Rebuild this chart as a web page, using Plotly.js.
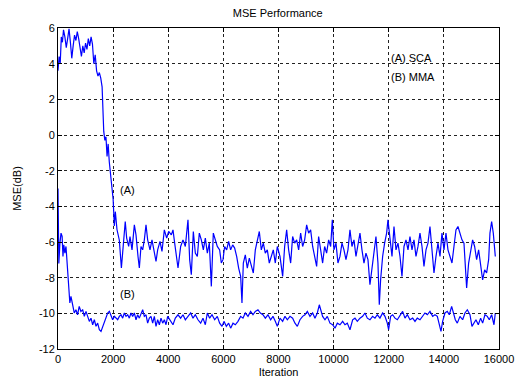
<!DOCTYPE html>
<html>
<head>
<meta charset="utf-8">
<script src="https://cdn.plot.ly/plotly-3.0.1.min.js"></script>
<style>html,body{margin:0;padding:0;background:#fff;}#chart{width:524px;height:383px;}</style>
</head>
<body>
<div id="chart"></div>
<script>
// Series (A) SCA: iteration and MSE (dB)
const iterA = [0,40,80,120,160,200,250,300,350,400,450,500,550,600,650,700,750,800,850,900,950,1000,1050,1100,1150,1200,1250,1300,1350,1400,1450,1500,1550,1600,1630,1660,1700,1740,1780,1820,1860,1900,1950,2000,2044,2080,2140,2225,2300,2347,2407,2440,2491,2564,2612,2685,2770,2830,2903,2951,3011,3072,3132,3193,3253,3338,3410,3471,3556,3616,3701,3773,3858,3943,4015,4112,4172,4233,4293,4354,4450,4535,4620,4716,4777,4837,4910,4982,5055,5127,5200,5273,5345,5418,5490,5563,5635,5708,5780,5865,5925,5986,6046,6119,6191,6264,6337,6409,6482,6554,6627,6675,6724,6796,6868,6941,7013,7086,7159,7231,7304,7376,7449,7521,7594,7666,7739,7811,7884,7957,8054,8151,8223,8296,8368,8441,8513,8586,8659,8731,8804,8876,8949,9021,9094,9166,9239,9311,9384,9456,9529,9601,9674,9746,9819,9892,9952,10012,10085,10157,10230,10303,10375,10448,10520,10593,10665,10738,10811,10883,10956,11028,11101,11173,11246,11318,11391,11463,11536,11608,11657,11705,11778,11850,11923,11971,12044,12118,12190,12263,12335,12408,12480,12553,12625,12698,12770,12843,12915,12988,13061,13133,13206,13278,13351,13423,13496,13569,13641,13714,13786,13859,13931,14004,14076,14149,14221,14294,14366,14439,14511,14584,14656,14729,14777,14826,14898,14971,15043,15116,15188,15261,15334,15406,15479,15551,15624,15672,15733,15793,15866];
const mseA = [3.6,4.4,4.0,5.5,5.2,5.9,5.5,4.9,5.4,5.95,5.2,4.3,5.0,5.6,5.3,5.8,5.4,4.8,4.4,5.0,4.6,5.15,4.8,5.4,5.0,5.5,5.1,4.0,4.5,3.6,3.3,3.5,3.2,2.7,1.5,0.2,-0.3,-0.1,-1.2,-0.5,-1.5,-2.1,-2.6,-3.6,-5.1,-4.3,-5.3,-5.9,-7.46,-6.44,-5.32,-4.85,-5.78,-6.25,-5.69,-6.44,-5.04,-5.6,-6.81,-7.46,-6.25,-6.44,-5.88,-5.04,-5.88,-6.44,-5.88,-6.44,-7.09,-6.44,-5.97,-6.53,-5.32,-5.78,-5.41,-5.6,-5.32,-6.06,-6.81,-7.46,-6.25,-5.88,-6.25,-4.76,-6.99,-7.84,-5.41,-6.62,-6.81,-5.5,-5.88,-6.44,-5.78,-6.62,-6.06,-8.49,-5.5,-5.88,-6.25,-6.44,-7.18,-6.99,-6.25,-6.44,-5.97,-6.44,-6.16,-6.34,-6.81,-7.46,-7.93,-9.42,-7.18,-6.72,-7.46,-6.9,-7.28,-7.74,-6.44,-5.88,-5.41,-6.44,-6.06,-6.62,-6.44,-7.18,-6.81,-6.44,-7.18,-6.25,-6.81,-7.93,-6.25,-5.32,-6.44,-7.18,-5.69,-6.06,-5.88,-6.44,-5.5,-6.25,-5.88,-5.04,-5.5,-5.32,-6.25,-6.81,-7.37,-5.69,-6.44,-7.18,-6.25,-6.62,-5.88,-6.25,-4.76,-6.44,-6.06,-7.18,-6.81,-6.06,-6.44,-6.99,-6.44,-5.32,-6.25,-5.88,-6.81,-6.25,-5.5,-6.44,-7.18,-6.62,-6.99,-8.4,-7.56,-6.44,-5.69,-7.18,-9.52,-8.12,-6.81,-6.06,-5.5,-4.76,-5.88,-6.81,-5.13,-6.44,-6.06,-6.81,-7.93,-6.25,-5.88,-6.44,-5.69,-6.44,-5.88,-6.81,-6.25,-5.5,-6.25,-7.37,-6.44,-6.06,-5.13,-6.44,-7.74,-6.81,-6.06,-6.81,-5.5,-6.44,-5.5,-6.44,-6.81,-7.18,-6.25,-5.32,-5.13,-5.5,-5.88,-6.06,-7.56,-8.58,-7.18,-6.44,-5.88,-6.25,-6.99,-6.44,-7.18,-8.12,-7.56,-7.74,-6.99,-5.5,-4.85,-5.5,-6.81];

// Series (B) MMA
const iterB = [0,30,70,110,150,180,210,250,290,330,360,390,430,470,530,590,650,710,770,830,895,955,1016,1088,1137,1197,1258,1318,1379,1439,1500,1560,1621,1681,1741,1802,1862,1923,1983,2044,2104,2165,2225,2286,2346,2407,2467,2528,2588,2648,2709,2769,2830,2890,2951,3011,3072,3132,3193,3253,3314,3374,3435,3495,3556,3616,3677,3737,3798,3858,3919,3979,4088,4172,4257,4354,4450,4535,4620,4716,4813,4898,4982,5079,5176,5260,5345,5418,5502,5587,5684,5780,5865,5950,6022,6107,6191,6264,6349,6433,6530,6627,6711,6796,6893,6989,7074,7159,7255,7340,7436,7521,7618,7715,7799,7884,7957,8054,8151,8235,8320,8417,8513,8598,8683,8779,8876,8961,9045,9142,9239,9323,9408,9481,9529,9601,9686,9771,9867,9964,10049,10134,10230,10327,10412,10496,10593,10690,10774,10859,10956,11052,11137,11222,11318,11415,11500,11585,11681,11778,11863,11947,11995,12068,12142,12226,12311,12408,12504,12589,12674,12770,12867,12952,13036,13133,13230,13314,13399,13496,13593,13677,13762,13834,13895,13955,14040,14124,14197,14282,14342,14415,14487,14584,14681,14765,14850,14947,15019,15092,15164,15249,15334,15406,15491,15576,15648,15733,15818,15866];
const mseB = [-3.0,-7.2,-6.06,-5.5,-5.69,-6.81,-6.16,-6.62,-6.25,-7.37,-7.93,-8.86,-9.42,-9.05,-9.61,-9.98,-9.8,-10.08,-9.61,-9.89,-9.8,-10.17,-9.89,-10.17,-10.45,-10.27,-10.64,-10.36,-10.73,-10.55,-10.92,-11.01,-10.73,-10.55,-10.27,-9.98,-9.89,-10.17,-10.36,-10.17,-10.27,-10.36,-10.17,-10.08,-10.27,-9.98,-10.17,-10.08,-10.27,-9.98,-10.17,-9.98,-10.36,-10.08,-10.27,-9.98,-9.8,-10.17,-10.08,-10.55,-10.27,-10.17,-10.55,-10.17,-10.73,-10.36,-10.64,-10.27,-10.55,-10.36,-10.64,-10.17,-10.45,-10.64,-10.27,-10.08,-10.27,-10.08,-10.36,-10.17,-9.98,-10.27,-10.08,-10.36,-10.55,-10.27,-10.64,-9.98,-10.27,-10.08,-10.36,-10.17,-10.55,-10.73,-10.45,-10.73,-10.55,-10.83,-10.55,-10.64,-10.45,-10.17,-10.27,-9.98,-10.17,-9.89,-10.08,-9.89,-9.8,-9.98,-10.08,-10.27,-10.08,-10.36,-10.17,-10.45,-10.73,-10.27,-10.45,-10.17,-10.36,-10.17,-10.27,-10.55,-10.73,-10.36,-10.17,-10.08,-9.89,-10.17,-9.98,-10.27,-9.98,-9.52,-9.8,-10.17,-10.36,-10.17,-10.55,-10.64,-10.83,-10.55,-10.64,-10.45,-10.64,-10.55,-10.92,-10.36,-10.27,-10.45,-10.27,-10.17,-9.98,-10.27,-10.36,-10.17,-10.27,-10.08,-10.27,-9.98,-10.17,-10.55,-10.92,-10.17,-10.08,-10.27,-10.36,-10.08,-9.89,-10.27,-10.08,-10.36,-10.27,-10.45,-10.27,-10.36,-10.17,-9.98,-10.08,-9.89,-10.17,-10.08,-10.17,-10.55,-11.01,-10.45,-9.98,-9.89,-10.08,-9.61,-9.98,-10.36,-10.55,-10.17,-10.36,-9.98,-9.8,-10.08,-10.73,-10.55,-10.36,-10.64,-10.27,-10.55,-10.08,-10.17,-10.36,-10.08,-10.64,-9.98];

const xTicks = [0,2000,4000,6000,8000,10000,12000,14000,16000];
const yTicks = [-12,-10,-8,-6,-4,-2,0,2,4,6];

const font = {family: 'Liberation Sans, Arial, sans-serif', size: 11, color: '#000'};
const lineStyle = {color: '#0000ff', width: 1.2};

const traces = [
  {x: iterA, y: mseA, type: 'scatter', mode: 'lines', line: lineStyle, name: '(A) SCA', showlegend: false},
  {x: iterB, y: mseB, type: 'scatter', mode: 'lines', line: lineStyle, name: '(B) MMA', showlegend: false}
];

const axisCommon = {
  showline: true, mirror: 'ticks', linecolor: '#000', linewidth: 1,
  ticks: 'inside', ticklen: 4, tickcolor: '#000',
  showgrid: true, gridcolor: '#222', gridwidth: 1, griddash: '3px,3px',
  zeroline: false, tickfont: font
};

const layout = {
  width: 524, height: 383,
  margin: {l: 58, r: 25, t: 28, b: 34},
  paper_bgcolor: '#fff', plot_bgcolor: '#fff',
  font: font,
  title: {text: 'MSE Performance', font: font, x: 0.53, xanchor: 'center', y: 0.965, yanchor: 'middle'},
  xaxis: Object.assign({}, axisCommon, {
    range: [0, 16000], tickvals: xTicks, ticktext: xTicks.map(String),
    title: {text: 'Iteration', font: font, standoff: 4}
  }),
  yaxis: Object.assign({}, axisCommon, {
    range: [-12, 6], tickvals: yTicks, ticktext: yTicks.map(String),
    title: {text: 'MSE(dB)', font: font, standoff: 15}
  }),
  annotations: [
    {x: 12000, y: 4.3, text: '(A) SCA', showarrow: false, xanchor: 'left', yanchor: 'middle', font: font},
    {x: 12000, y: 3.25, text: '(B) MMA', showarrow: false, xanchor: 'left', yanchor: 'middle', font: font},
    {x: 2180, y: -3.1, text: '(A)', showarrow: false, xanchor: 'left', yanchor: 'middle', font: font},
    {x: 2180, y: -8.9, text: '(B)', showarrow: false, xanchor: 'left', yanchor: 'middle', font: font}
  ]
};

Plotly.newPlot('chart', traces, layout, {staticPlot: true, displayModeBar: false});
</script>
</body>
</html>
